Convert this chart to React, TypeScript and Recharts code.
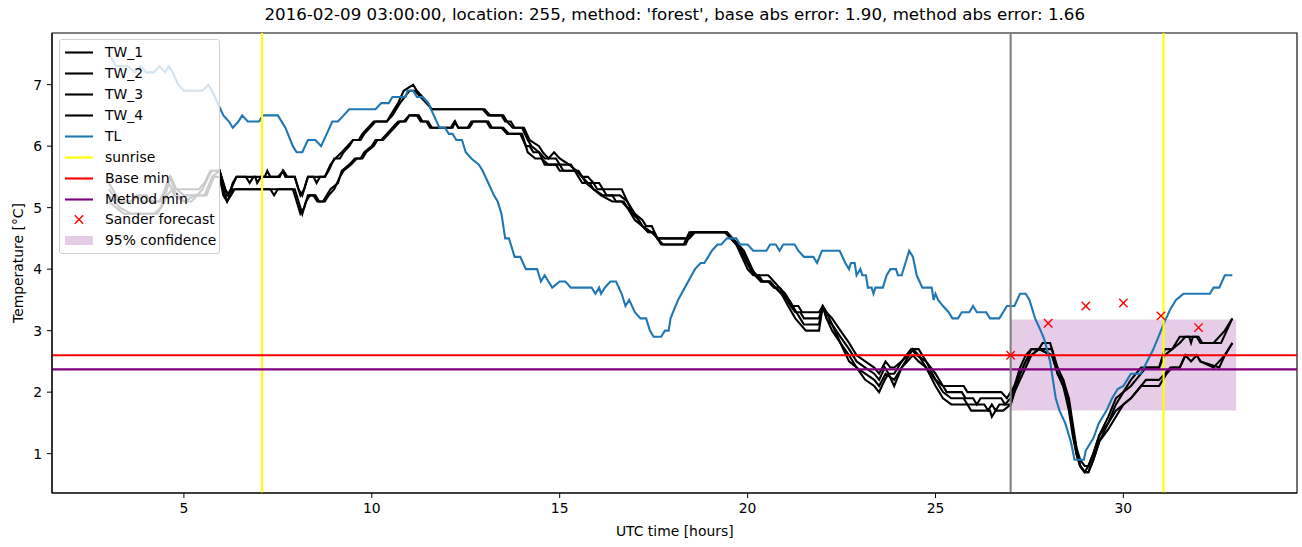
import React from 'react';
import { ComposedChart, Line, XAxis, YAxis, ReferenceLine, ReferenceArea, Scatter } from 'recharts';

// ---------- data ----------
const xTicks = [5, 10, 15, 20, 25, 30];
const yTicks = [1, 2, 3, 4, 5, 6, 7];
const sunriseHours = [7.08, 31.07];
const forecastHour = 27;
const baseMin = 2.6;
const methodMin = 2.37;
const confidenceBand = { start: 27, end: 33, low: 1.7, high: 3.18 };

const forecastHours = [27, 28, 29, 30, 31, 32];
const forecastValues = [2.6, 3.12, 3.4, 3.45, 3.24, 3.05];

const tw1Points: [number, number][] = [
  [3.0,5.3],[3.25,5.1],[3.6,5.1],[3.75,5.2],[3.9,5.1],[4.35,5.1],[4.5,5.3],[4.62,5.5],[4.75,5.3],[5.4,5.3],[5.55,5.4],[5.7,5.6],[5.95,5.6],[6.05,5.4],[6.15,5.2],[6.25,5.3],[6.4,5.5],[6.65,5.5],[6.75,5.4],[6.85,5.5],[7.15,5.5],[7.22,5.6],[7.3,5.5],[7.55,5.5],[7.63,5.6],[7.7,5.5],[7.95,5.5],[8.1,5.2],[8.2,5.3],[8.3,5.5],[8.45,5.5],[8.53,5.4],[8.62,5.5],[8.75,5.5],[8.9,5.7],[9.03,5.8],[9.2,5.9],[9.35,6.0],[9.5,6.1],[9.65,6.1],[9.75,6.2],[9.9,6.3],[10.05,6.4],[10.4,6.4],[10.5,6.5],[10.7,6.7],[10.85,6.9],[11.1,7.0],[11.2,6.9],[11.35,6.8],[11.5,6.7],[11.58,6.6],[13.0,6.6],[13.15,6.5],[13.45,6.5],[13.55,6.4],[13.7,6.4],[13.8,6.3],[14.05,6.3],[14.2,6.1],[14.45,6.0],[14.55,5.9],[14.7,5.8],[14.85,5.9],[15.0,5.8],[15.25,5.7],[15.45,5.6],[15.6,5.5],[15.75,5.5],[15.9,5.4],[16.05,5.4],[16.15,5.3],[16.65,5.3],[16.8,5.1],[17.0,4.9],[17.2,4.8],[17.3,4.7],[17.45,4.7],[17.6,4.5],[18.4,4.5],[18.55,4.6],[19.45,4.6],[19.6,4.5],[19.75,4.4],[19.9,4.2],[20.07,4.0],[20.2,3.9],[20.55,3.9],[20.7,3.8],[20.85,3.7],[21.0,3.6],[21.1,3.5],[21.2,3.4],[21.35,3.4],[21.45,3.3],[21.9,3.3],[22.0,3.4],[22.1,3.3],[22.25,3.2],[22.47,3.0],[22.7,2.8],[22.9,2.6],[23.13,2.5],[23.37,2.4],[23.5,2.3],[23.67,2.5],[23.8,2.4],[23.9,2.4],[24.1,2.5],[24.4,2.7],[24.55,2.7],[24.75,2.5],[25.0,2.3],[25.2,2.1],[25.75,2.1],[25.85,2.0],[26.75,2.0],[26.9,1.9],[27.0,2.0],[27.1,2.1],[27.25,2.4],[27.4,2.6],[27.55,2.7],[27.75,2.7],[27.85,2.8],[28.05,2.8],[28.1,2.7],[28.25,2.4],[28.4,2.2],[28.55,1.9],[28.65,1.5],[28.75,1.1],[28.85,0.9],[28.97,0.8],[29.07,0.8],[29.2,1.0],[29.36,1.3],[29.6,1.6],[29.8,1.9],[30.0,2.0],[30.2,2.2],[30.47,2.4],[30.95,2.4],[31.1,2.7],[31.3,2.7],[31.5,2.9],[31.75,2.9],[31.8,2.8],[31.85,2.9],[31.95,2.9],[32.05,2.8],[32.4,2.8],[32.55,2.9],[32.7,3.0],[32.9,3.2],
];

const tw2Points: [number, number][] = [
  [3.0,5.4],[3.2,5.2],[3.35,5.1],[3.6,5.1],[3.8,5.2],[4.0,5.2],[4.15,5.1],[4.4,5.1],[4.55,5.4],[4.65,5.5],[4.8,5.3],[5.0,5.2],[5.35,5.2],[5.5,5.3],[5.65,5.5],[5.75,5.6],[5.95,5.6],[6.1,5.3],[6.2,5.2],[6.3,5.4],[6.4,5.5],[6.9,5.5],[6.95,5.4],[7.05,5.5],[7.5,5.5],[7.65,5.6],[7.75,5.5],[7.95,5.5],[8.05,5.3],[8.15,5.2],[8.25,5.4],[8.3,5.5],[8.75,5.5],[8.85,5.6],[9.0,5.8],[9.15,5.8],[9.25,5.9],[9.4,6.0],[9.5,6.1],[9.7,6.1],[9.8,6.2],[9.95,6.3],[10.1,6.4],[10.4,6.4],[10.55,6.5],[10.75,6.7],[11.0,6.9],[11.15,6.9],[11.3,6.8],[11.45,6.7],[11.6,6.6],[12.95,6.6],[13.1,6.5],[13.5,6.5],[13.6,6.4],[13.75,6.3],[14.0,6.3],[14.15,6.1],[14.25,6.0],[14.45,5.9],[14.6,5.8],[14.9,5.8],[15.0,5.7],[15.3,5.7],[15.4,5.6],[15.5,5.6],[15.6,5.5],[15.75,5.4],[15.9,5.4],[16.0,5.3],[16.15,5.3],[16.25,5.2],[16.6,5.2],[16.8,5.1],[16.95,4.9],[17.1,4.8],[17.2,4.7],[17.4,4.6],[17.5,4.6],[17.6,4.5],[18.45,4.5],[18.6,4.6],[19.4,4.6],[19.55,4.5],[19.7,4.4],[19.85,4.2],[20.0,4.0],[20.15,3.9],[20.3,3.9],[20.4,3.8],[20.6,3.8],[20.75,3.7],[20.9,3.6],[21.05,3.5],[21.15,3.4],[21.27,3.3],[21.4,3.3],[21.5,3.2],[21.9,3.2],[22.0,3.4],[22.1,3.3],[22.25,3.1],[22.47,2.9],[22.7,2.7],[22.9,2.5],[23.13,2.4],[23.37,2.3],[23.5,2.2],[23.65,2.4],[23.75,2.3],[23.9,2.3],[24.1,2.5],[24.35,2.7],[24.5,2.6],[24.75,2.5],[25.0,2.2],[25.2,2.1],[25.3,2.0],[25.7,2.0],[25.8,1.9],[26.0,1.9],[26.1,1.8],[26.2,1.9],[26.75,1.9],[26.85,1.8],[27.0,1.9],[27.1,2.1],[27.25,2.3],[27.4,2.5],[27.55,2.7],[28.1,2.7],[28.25,2.3],[28.4,2.2],[28.55,1.8],[28.65,1.4],[28.75,1.1],[28.85,0.8],[28.97,0.7],[29.07,0.8],[29.2,1.0],[29.36,1.3],[29.6,1.5],[29.8,1.8],[30.0,2.0],[30.2,2.1],[30.47,2.3],[30.6,2.4],[30.95,2.4],[31.1,2.6],[31.3,2.7],[31.5,2.8],[31.65,2.9],[32.0,2.9],[32.1,2.8],[32.6,2.8],[32.75,3.0],[32.9,3.2],
];

const tw3Points: [number, number][] = [
  [3.0,5.2],[3.3,5.0],[3.6,4.9],[4.3,4.9],[4.45,5.1],[4.6,5.4],[4.75,5.2],[5.0,5.1],[5.3,5.2],[5.55,5.2],[5.75,5.5],[5.95,5.6],[6.05,5.3],[6.15,5.1],[6.25,5.2],[6.35,5.3],[7.9,5.3],[8.0,5.1],[8.1,4.9],[8.2,5.0],[8.3,5.2],[8.45,5.2],[8.55,5.1],[8.7,5.1],[8.8,5.2],[8.9,5.3],[9.1,5.4],[9.2,5.6],[9.4,5.7],[9.55,5.8],[9.7,5.8],[9.8,5.9],[10.0,6.0],[10.1,6.1],[10.25,6.1],[10.4,6.2],[10.55,6.3],[10.7,6.4],[10.85,6.4],[11.0,6.5],[11.2,6.5],[11.3,6.4],[11.45,6.4],[11.55,6.3],[12.1,6.3],[12.2,6.4],[12.3,6.3],[12.55,6.3],[12.65,6.4],[13.1,6.4],[13.2,6.3],[13.45,6.3],[13.6,6.2],[13.95,6.2],[14.1,6.0],[14.2,6.0],[14.3,5.9],[14.45,5.9],[14.6,5.7],[15.0,5.7],[15.1,5.6],[15.45,5.6],[15.6,5.5],[15.7,5.4],[15.9,5.3],[16.15,5.2],[16.4,5.2],[16.5,5.1],[16.7,5.1],[16.8,5.0],[17.0,4.9],[17.1,4.8],[17.2,4.7],[17.35,4.6],[17.5,4.6],[17.6,4.5],[17.7,4.4],[18.3,4.4],[18.45,4.6],[19.45,4.6],[19.6,4.5],[19.75,4.4],[19.9,4.3],[20.05,4.1],[20.2,3.9],[20.35,3.8],[20.55,3.8],[20.7,3.7],[20.85,3.7],[20.95,3.6],[21.1,3.5],[21.2,3.4],[21.3,3.3],[21.4,3.2],[21.5,3.1],[21.9,3.1],[22.0,3.4],[22.1,3.2],[22.25,3.1],[22.47,2.8],[22.7,2.6],[22.9,2.4],[23.13,2.3],[23.37,2.2],[23.5,2.1],[23.67,2.3],[23.9,2.2],[24.1,2.4],[24.4,2.7],[24.55,2.6],[24.75,2.4],[25.0,2.2],[25.2,2.0],[25.42,1.9],[25.75,1.9],[25.85,1.8],[26.3,1.8],[26.4,1.7],[26.5,1.8],[26.6,1.7],[26.7,1.8],[27.0,1.8],[27.1,2.0],[27.25,2.3],[27.4,2.5],[27.55,2.6],[27.75,2.7],[28.1,2.6],[28.25,2.3],[28.4,2.1],[28.55,1.8],[28.65,1.4],[28.75,1.0],[28.85,0.8],[28.97,0.7],[29.07,0.7],[29.2,0.9],[29.36,1.2],[29.6,1.5],[29.8,1.7],[30.0,1.8],[30.2,1.9],[30.47,2.1],[30.6,2.2],[30.95,2.2],[31.1,2.3],[31.25,2.4],[31.5,2.4],[31.65,2.6],[31.8,2.5],[31.95,2.6],[32.05,2.5],[32.4,2.4],[32.55,2.5],[32.7,2.6],[32.9,2.8],
];

const tw4Points: [number, number][] = [
  [3.0,5.1],[3.2,5.0],[3.4,4.9],[4.2,4.9],[4.4,5.0],[4.55,5.2],[4.7,5.3],[4.85,5.2],[5.0,5.1],[5.2,5.1],[5.35,5.2],[5.6,5.2],[5.8,5.5],[5.95,5.5],[6.05,5.2],[6.15,5.1],[6.3,5.3],[7.3,5.3],[7.4,5.2],[7.5,5.3],[7.95,5.3],[8.05,5.1],[8.15,4.9],[8.25,5.1],[8.35,5.2],[8.5,5.2],[8.6,5.1],[8.75,5.1],[8.85,5.2],[9.0,5.3],[9.15,5.5],[9.25,5.6],[9.45,5.7],[9.6,5.8],[9.75,5.8],[9.85,5.9],[10.05,6.0],[10.15,6.1],[10.3,6.1],[10.45,6.2],[10.6,6.3],[10.75,6.4],[10.9,6.4],[11.0,6.5],[11.25,6.5],[11.35,6.4],[11.5,6.4],[11.6,6.3],[12.15,6.3],[12.22,6.4],[12.3,6.3],[12.6,6.3],[12.7,6.4],[13.05,6.4],[13.15,6.3],[13.5,6.3],[13.65,6.2],[14.0,6.2],[14.15,5.9],[14.35,5.8],[14.5,5.8],[14.7,5.7],[14.9,5.7],[15.0,5.6],[15.4,5.6],[15.5,5.5],[15.6,5.4],[15.8,5.4],[15.9,5.3],[16.1,5.2],[16.4,5.1],[16.65,5.1],[16.8,5.0],[17.0,4.8],[17.2,4.7],[17.45,4.6],[17.6,4.5],[17.75,4.4],[18.35,4.4],[18.5,4.6],[19.4,4.6],[19.55,4.5],[19.7,4.4],[19.85,4.3],[20.0,4.1],[20.1,4.0],[20.25,3.9],[20.36,3.8],[20.6,3.8],[20.73,3.7],[20.9,3.6],[21.08,3.4],[21.27,3.2],[21.55,3.0],[21.9,3.0],[22.0,3.4],[22.1,3.2],[22.25,3.0],[22.47,2.8],[22.7,2.5],[22.9,2.4],[23.13,2.2],[23.37,2.1],[23.5,2.0],[23.65,2.2],[23.75,2.3],[23.9,2.1],[24.1,2.4],[24.4,2.6],[24.55,2.5],[24.75,2.4],[25.0,2.1],[25.2,1.9],[25.42,1.8],[25.85,1.8],[25.95,1.7],[26.45,1.7],[26.5,1.6],[26.6,1.7],[26.8,1.7],[27.0,1.8],[27.1,2.0],[27.25,2.2],[27.4,2.4],[27.55,2.6],[27.75,2.7],[28.1,2.6],[28.25,2.3],[28.4,2.1],[28.55,1.7],[28.65,1.3],[28.75,1.0],[28.85,0.8],[28.97,0.7],[29.07,0.7],[29.2,0.9],[29.36,1.2],[29.6,1.4],[29.8,1.6],[30.0,1.8],[30.2,1.9],[30.47,2.1],[30.95,2.1],[31.05,2.2],[31.15,2.3],[31.3,2.4],[31.5,2.4],[31.65,2.6],[31.95,2.6],[32.05,2.5],[32.55,2.4],[32.7,2.6],[32.9,2.8],
];

const tlPoints: [number, number][] = [
  [3.0,7.5],[3.2,7.3],[3.5,7.3],[3.7,7.2],[3.85,7.3],[4.0,7.2],[4.2,7.2],[4.35,7.3],[4.5,7.2],[4.6,7.3],[4.7,7.2],[4.85,7.0],[5.0,6.9],[5.5,6.9],[5.65,7.0],[5.75,6.9],[5.9,6.7],[6.05,6.5],[6.2,6.4],[6.3,6.3],[6.45,6.4],[6.55,6.5],[6.7,6.4],[7.0,6.4],[7.1,6.5],[7.5,6.5],[7.7,6.3],[7.9,6.0],[8.0,5.9],[8.15,5.9],[8.3,6.1],[8.5,6.1],[8.65,6.0],[8.8,6.2],[8.95,6.4],[9.1,6.4],[9.25,6.5],[9.4,6.6],[10.1,6.6],[10.25,6.7],[10.45,6.7],[10.55,6.8],[10.9,6.8],[10.95,6.9],[11.1,6.9],[11.2,6.8],[11.35,6.8],[11.5,6.7],[11.65,6.5],[11.8,6.3],[11.95,6.3],[12.05,6.2],[12.15,6.2],[12.25,6.1],[12.4,6.1],[12.5,5.9],[12.65,5.8],[12.85,5.7],[12.95,5.6],[13.1,5.4],[13.25,5.2],[13.35,5.1],[13.45,4.9],[13.55,4.5],[13.65,4.5],[13.8,4.2],[13.95,4.2],[14.1,4.0],[14.4,4.0],[14.5,3.8],[14.6,3.9],[14.7,3.8],[14.8,3.7],[15.0,3.8],[15.15,3.8],[15.3,3.7],[15.85,3.7],[15.95,3.6],[16.05,3.7],[16.1,3.6],[16.2,3.7],[16.35,3.8],[16.5,3.8],[16.65,3.6],[16.75,3.4],[16.85,3.5],[17.0,3.3],[17.15,3.2],[17.3,3.2],[17.4,3.0],[17.5,2.9],[17.7,2.9],[17.8,3.0],[17.9,3.0],[17.95,3.2],[18.15,3.5],[18.6,4.0],[18.75,4.1],[18.85,4.1],[18.95,4.2],[19.05,4.3],[19.2,4.4],[19.3,4.4],[19.45,4.5],[19.7,4.5],[19.8,4.4],[20.0,4.4],[20.15,4.3],[20.5,4.3],[20.6,4.4],[20.75,4.4],[20.85,4.3],[20.95,4.4],[21.25,4.4],[21.35,4.3],[21.5,4.2],[21.75,4.2],[21.85,4.1],[21.98,4.3],[22.45,4.3],[22.6,4.1],[22.7,4.0],[22.75,4.1],[22.85,4.1],[22.9,3.9],[23.0,4.0],[23.05,3.9],[23.15,3.9],[23.2,3.7],[23.3,3.7],[23.35,3.6],[23.4,3.7],[23.6,3.7],[23.7,3.9],[23.8,4.0],[23.95,4.0],[24.0,3.9],[24.1,3.9],[24.2,4.1],[24.3,4.3],[24.4,4.2],[24.5,3.9],[24.65,3.7],[24.9,3.7],[24.95,3.5],[25.0,3.6],[25.07,3.5],[25.2,3.4],[25.35,3.3],[25.45,3.2],[25.6,3.2],[25.7,3.3],[25.9,3.3],[26.0,3.4],[26.1,3.3],[26.35,3.3],[26.45,3.2],[26.7,3.2],[26.8,3.3],[26.9,3.4],[27.1,3.4],[27.25,3.6],[27.4,3.6],[27.5,3.5],[27.65,3.2],[27.8,3.0],[27.9,2.85],[28.05,2.5],[28.2,1.9],[28.3,1.7],[28.45,1.5],[28.6,1.2],[28.7,0.9],[28.95,0.9],[29.0,1.05],[29.2,1.25],[29.35,1.5],[29.55,1.7],[29.7,1.9],[29.85,2.05],[30.0,2.1],[30.1,2.2],[30.2,2.3],[30.45,2.3],[30.55,2.4],[30.8,2.7],[31.0,3.0],[31.1,3.15],[31.25,3.35],[31.4,3.5],[31.5,3.55],[31.6,3.6],[32.3,3.6],[32.4,3.7],[32.55,3.7],[32.7,3.9],[32.9,3.9],
];

const seriesNames = ['TW_1', 'TW_2', 'TW_3', 'TW_4', 'TL'];

// ---------- helpers ----------
const toRows = (pts: [number, number][]) => pts.map(([h, v]) => ({ h, v }));
const twRows = [tw1Points, tw2Points, tw3Points, tw4Points].map(toRows);
const tlRows = toRows(tlPoints);
const forecastRows = forecastHours.map((h, i) => ({ h, v: forecastValues[i] }));

const FONT = "'DejaVu Sans', 'Liberation Sans', sans-serif";
const BLUE = '#1f77b4';
const X_DOMAIN: [number, number] = [1.49, 34.62];
const Y_DOMAIN: [number, number] = [0.36, 7.84];

const XMark = (props: any) => {
  const { cx, cy } = props;
  if (cx == null || cy == null) return null;
  const r = 4.2;
  return (
    <g>
      <line x1={cx - r} y1={cy - r} x2={cx + r} y2={cy + r} stroke="red" strokeWidth={1.4} />
      <line x1={cx - r} y1={cy + r} x2={cx + r} y2={cy - r} stroke="red" strokeWidth={1.4} />
    </g>
  );
};

const legendItems: { label: string; kind: 'line' | 'x' | 'patch'; color: string }[] = [
  { label: 'TW_1', kind: 'line', color: '#000000' },
  { label: 'TW_2', kind: 'line', color: '#000000' },
  { label: 'TW_3', kind: 'line', color: '#000000' },
  { label: 'TW_4', kind: 'line', color: '#000000' },
  { label: 'TL', kind: 'line', color: BLUE },
  { label: 'sunrise', kind: 'line', color: 'yellow' },
  { label: 'Base min', kind: 'line', color: 'red' },
  { label: 'Method min', kind: 'line', color: 'purple' },
  { label: 'Sander forecast', kind: 'x', color: 'red' },
  { label: '95% confidence', kind: 'patch', color: 'purple' },
];

const LegendBox = () => (
  <div
    style={{
      position: 'absolute',
      left: 59,
      top: 39,
      width: 161,
      height: 215,
      boxSizing: 'border-box',
      border: '1px solid #d0d0d0',
      borderRadius: 3,
      background: 'rgba(255,255,255,0.8)',
      fontFamily: FONT,
      fontSize: 13.9,
      color: '#000',
    }}
  >
    {legendItems.map((it, i) => (
      <div
        key={it.label}
        style={{ position: 'absolute', left: 0, top: 2.2 + 20.9 * i, height: 20.9, width: '100%' }}
      >
        <svg width={40} height={21} style={{ position: 'absolute', left: 4, top: 0 }}>
          {it.kind === 'line' && <line x1={1} x2={29} y1={10.5} y2={10.5} stroke={it.color} strokeWidth={2.1} />}
          {it.kind === 'x' && (
            <g>
              <line x1={10.8} y1={6.3} x2={19.2} y2={14.7} stroke="red" strokeWidth={1.4} />
              <line x1={10.8} y1={14.7} x2={19.2} y2={6.3} stroke="red" strokeWidth={1.4} />
            </g>
          )}
          {it.kind === 'patch' && <rect x={1} y={6} width={28} height={9} fill="purple" fillOpacity={0.2} />}
        </svg>
        <span style={{ position: 'absolute', left: 45, top: 0, lineHeight: '20.9px', whiteSpace: 'nowrap' }}>{it.label}</span>
      </div>
    ))}
  </div>
);

export default function App() {
  const tickStyle = { fill: '#000', fontSize: 13.9, fontFamily: FONT };
  return (
    <div style={{ position: 'absolute', left: 0, top: 0, width: 1302, height: 547, background: '#fff' }}>
      <ComposedChart width={1302} height={547} margin={{ top: 33, right: 5, bottom: 0, left: 0 }}>
        <XAxis
          type="number"
          dataKey="h"
          domain={X_DOMAIN}
          ticks={xTicks}
          allowDataOverflow
          height={54}
          tickSize={5}
          tickMargin={5}
          tick={tickStyle}
          stroke="#000"
          tickLine={{ stroke: '#000', strokeWidth: 1 }}
          axisLine={{ stroke: '#000', strokeWidth: 1.1 }}
        />
        <YAxis
          type="number"
          domain={Y_DOMAIN}
          ticks={yTicks}
          allowDataOverflow
          width={52}
          tickSize={5}
          tickMargin={5}
          tick={tickStyle}
          stroke="#000"
          tickLine={{ stroke: '#000', strokeWidth: 1 }}
          axisLine={{ stroke: '#000', strokeWidth: 1.1 }}
        />

        <ReferenceArea
          x1={confidenceBand.start}
          x2={confidenceBand.end}
          y1={confidenceBand.low}
          y2={confidenceBand.high}
          fill="purple"
          fillOpacity={0.2}
          stroke="none"
        />

        {twRows.map((rows, i) => (
          <Line
            key={seriesNames[i]}
            data={rows}
            dataKey="v"
            name={seriesNames[i]}
            type="linear"
            stroke="#000"
            strokeWidth={2.1}
            dot={false}
            activeDot={false}
            isAnimationActive={false}
          />
        ))}
        <Line data={tlRows} dataKey="v" name="TL" type="linear" stroke={BLUE} strokeWidth={2.1} dot={false} activeDot={false} isAnimationActive={false} />

        {sunriseHours.map((h) => (
          <ReferenceLine key={h} x={h} stroke="yellow" strokeWidth={2.1} />
        ))}
        <ReferenceLine y={baseMin} stroke="red" strokeWidth={2.1} />
        <ReferenceLine y={methodMin} stroke="purple" strokeWidth={2.1} />
        <ReferenceLine x={forecastHour} stroke="gray" strokeWidth={2.1} />

        <Scatter data={forecastRows} dataKey="v" name="Sander forecast" shape={XMark} isAnimationActive={false} />

        {/* axes frame (top and right spines) */}
        <ReferenceArea
          x1={X_DOMAIN[0]}
          x2={X_DOMAIN[1]}
          y1={Y_DOMAIN[0]}
          y2={Y_DOMAIN[1]}
          fill="none"
          stroke="#000"
          strokeWidth={1.1}
          ifOverflow="visible"
        />
      </ComposedChart>

      <LegendBox />

      <div
        style={{
          position: 'absolute',
          left: 674.75,
          top: 6.9,
          transform: 'translateX(-50%)',
          whiteSpace: 'nowrap',
          fontFamily: FONT,
          fontSize: 16.67,
          lineHeight: '16.67px',
          color: '#000',
        }}
      >
        2016-02-09 03:00:00, location: 255, method: 'forest', base abs error: 1.90, method abs error: 1.66
      </div>
      <div
        style={{
          position: 'absolute',
          left: 674.75,
          top: 525.2,
          transform: 'translateX(-50%)',
          whiteSpace: 'nowrap',
          fontFamily: FONT,
          fontSize: 13.9,
          lineHeight: '13.9px',
          color: '#000',
        }}
      >
        UTC time [hours]
      </div>
      <div
        style={{
          position: 'absolute',
          left: 19,
          top: 263,
          transform: 'translate(-50%, -50%) rotate(-90deg)',
          whiteSpace: 'nowrap',
          fontFamily: FONT,
          fontSize: 13.9,
          lineHeight: '13.9px',
          color: '#000',
        }}
      >
        Temperature [°C]
      </div>
    </div>
  );
}
